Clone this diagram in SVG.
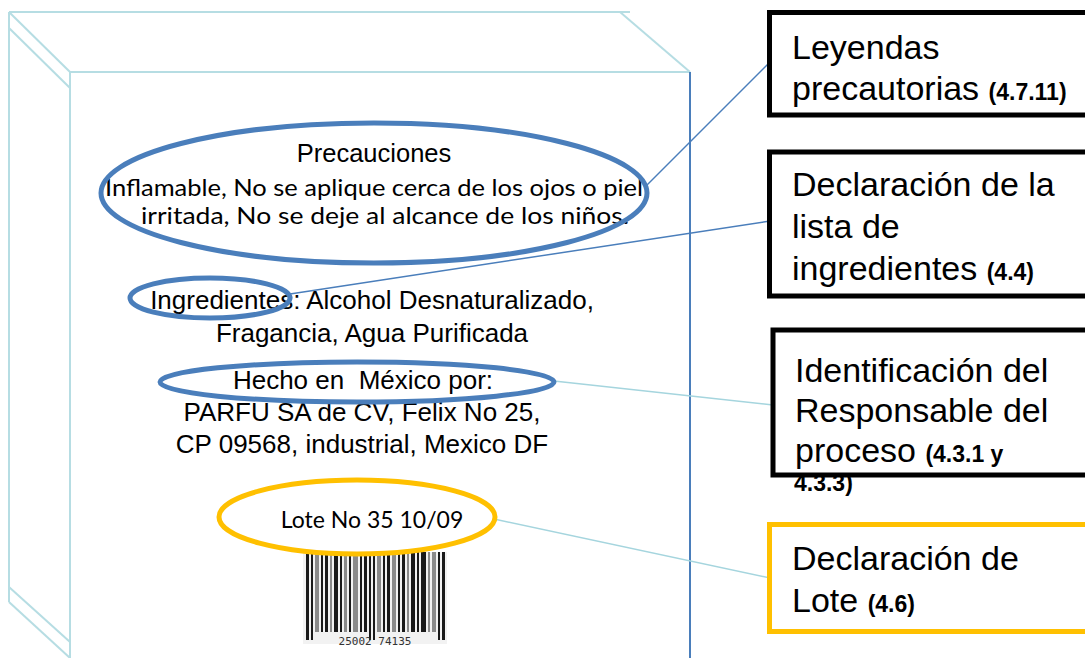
<svg xmlns="http://www.w3.org/2000/svg" width="1085" height="658" viewBox="0 0 1085 658">
<style>
.box{fill:none;stroke:#B6DDE3;stroke-width:2}
.ell{fill:none;stroke:#4A7EBB;stroke-width:5}
.ello{fill:none;stroke:#FFC000;stroke-width:5}
.ar{font-family:"Liberation Sans",Arial,sans-serif;fill:#000}
.ca{font-family:Lato,"Open Sans",sans-serif;fill:#000}
.lbl{font-family:"Liberation Sans",Arial,sans-serif;font-size:34px;fill:#000}
.code{font-size:23px;font-weight:bold}
.nb{fill:#fff;stroke:#000;stroke-width:5}
.ob{fill:#fff;stroke:#FFC000;stroke-width:5}
.bar{fill:#1a1a1a}
.barg{fill:#8a8a8a}
</style>
<rect width="1085" height="658" fill="#fff"/>
<g id="package">
<line class="box" x1="9" y1="12" x2="630" y2="12"/>
<line class="box" x1="9" y1="12" x2="9" y2="602"/>
<line class="box" x1="9" y1="12" x2="70" y2="72"/>
<line class="box" x1="9" y1="28" x2="70" y2="88"/>
<line class="box" x1="620" y1="12" x2="690" y2="72"/>
<line class="box" x1="70" y1="72" x2="690" y2="72"/>
<line class="box" x1="70" y1="72" x2="70" y2="658"/>
<line class="box" x1="9" y1="587" x2="70" y2="642"/>
<line class="box" x1="9" y1="602" x2="70" y2="658"/>
<line x1="690" y1="72" x2="690" y2="658" stroke="#4A7EBB" stroke-width="2"/>
</g>
<g id="label-text">
<text class="ar" x="374" y="162" font-size="25.5" text-anchor="middle">Precauciones</text>
<text class="ca" x="374" y="196" font-size="23" text-anchor="middle" textLength="538" lengthAdjust="spacingAndGlyphs">Inflamable, No se aplique cerca de los ojos o piel</text>
<text class="ca" x="385" y="224" font-size="23" text-anchor="middle" textLength="488" lengthAdjust="spacingAndGlyphs">irritada, No se deje al alcance de los niños.</text>
<text class="ar" x="372" y="309" font-size="26" text-anchor="middle">Ingredientes: Alcohol Desnaturalizado,</text>
<text class="ar" x="372" y="342" font-size="26" text-anchor="middle">Fragancia, Agua Purificada</text>
<text class="ar" x="363" y="389" font-size="26" text-anchor="middle" xml:space="preserve">Hecho en  México por:</text>
<text class="ar" x="362" y="421" font-size="26" text-anchor="middle">PARFU SA de CV, Felix No 25,</text>
<text class="ar" x="362" y="453" font-size="26" text-anchor="middle">CP 09568, industrial, Mexico DF</text>
<text class="ca" x="372" y="528" font-size="23" text-anchor="middle">Lote No 35 10/09</text>
</g>
<g id="barcode">
<rect x="303" y="552" width="144" height="92" fill="#f2f2f2"/>
<rect class="bar" x="306" y="552" width="3" height="88"/>
<rect class="bar" x="311" y="552" width="2" height="88"/>
<rect class="barg" x="315" y="552" width="4" height="80"/>
<rect class="bar" x="321" y="552" width="2" height="80"/>
<rect class="bar" x="325" y="552" width="3" height="80"/>
<rect class="barg" x="330" y="552" width="2" height="80"/>
<rect class="bar" x="334" y="552" width="4" height="80"/>
<rect class="bar" x="340" y="552" width="2" height="80"/>
<rect class="barg" x="344" y="552" width="3" height="80"/>
<rect class="bar" x="349" y="552" width="2" height="80"/>
<rect class="barg" x="353" y="552" width="5" height="80"/>
<rect class="bar" x="360" y="552" width="2" height="80"/>
<rect class="bar" x="364" y="552" width="3" height="80"/>
<rect class="bar" x="369" y="552" width="2" height="88"/>
<rect class="bar" x="373" y="552" width="2" height="88"/>
<rect class="barg" x="377" y="552" width="4" height="80"/>
<rect class="bar" x="383" y="552" width="2" height="80"/>
<rect class="bar" x="387" y="552" width="3" height="80"/>
<rect class="barg" x="392" y="552" width="4" height="80"/>
<rect class="bar" x="398" y="552" width="2" height="80"/>
<rect class="bar" x="402" y="552" width="3" height="80"/>
<rect class="barg" x="407" y="552" width="2" height="80"/>
<rect class="bar" x="411" y="552" width="4" height="80"/>
<rect class="bar" x="417" y="552" width="2" height="80"/>
<rect class="bar" x="421" y="552" width="5" height="80"/>
<rect class="barg" x="428" y="552" width="2" height="80"/>
<rect class="barg" x="432" y="552" width="4" height="80"/>
<rect class="bar" x="438" y="552" width="2" height="88"/>
<rect class="bar" x="442" y="552" width="3" height="88"/>
<text x="375" y="645" font-family="'DejaVu Sans Mono',monospace" font-size="11" fill="#333" text-anchor="middle" xml:space="preserve">25002 74135</text>
</g>
<g id="connectors">
<line x1="645" y1="187" x2="770" y2="62" stroke="#4A7EBB" stroke-width="1.5"/>
<line x1="290" y1="294" x2="770" y2="221" stroke="#4A7EBB" stroke-width="1.5"/>
<line x1="554" y1="381" x2="773" y2="405" stroke="#A5D5DE" stroke-width="1.5"/>
<line x1="494" y1="519" x2="770" y2="578" stroke="#A5D5DE" stroke-width="1.5"/>
</g>
<g id="ellipses">
<ellipse class="ell" cx="374" cy="193" rx="273" ry="70"/>
<ellipse class="ell" cx="210" cy="298" rx="80" ry="20"/>
<ellipse class="ell" cx="357" cy="382" rx="197" ry="20"/>
<ellipse class="ello" cx="357" cy="517" rx="138" ry="37"/>
</g>
<g id="box-leyendas">
<rect class="nb" x="769.5" y="12.5" width="330" height="102.5"/>
<text class="lbl" x="792" y="59">Leyendas</text>
<text class="lbl" x="792" y="100">precautorias <tspan class="code">(4.7.11)</tspan></text>
</g>
<g id="box-ingredientes">
<rect class="nb" x="769.5" y="152" width="330" height="144"/>
<text class="lbl" x="792" y="196">Declaración de la</text>
<text class="lbl" x="792" y="238">lista de</text>
<text class="lbl" x="792" y="280">ingredientes <tspan class="code">(4.4)</tspan></text>
</g>
<g id="box-responsable">
<rect class="nb" x="773" y="330" width="330" height="145"/>
<text class="lbl" x="795" y="382">Identificación del</text>
<text class="lbl" x="795" y="422">Responsable del</text>
<text class="lbl" x="795" y="462">proceso <tspan class="code">(4.3.1 y</tspan></text>
<text class="lbl code" x="794" y="491">4.3.3)</text>
</g>
<g id="box-lote">
<rect class="ob" x="769.5" y="524.5" width="330" height="107"/>
<text class="lbl" x="792" y="570">Declaración de</text>
<text class="lbl" x="792" y="612">Lote <tspan class="code">(4.6)</tspan></text>
</g>
</svg>
